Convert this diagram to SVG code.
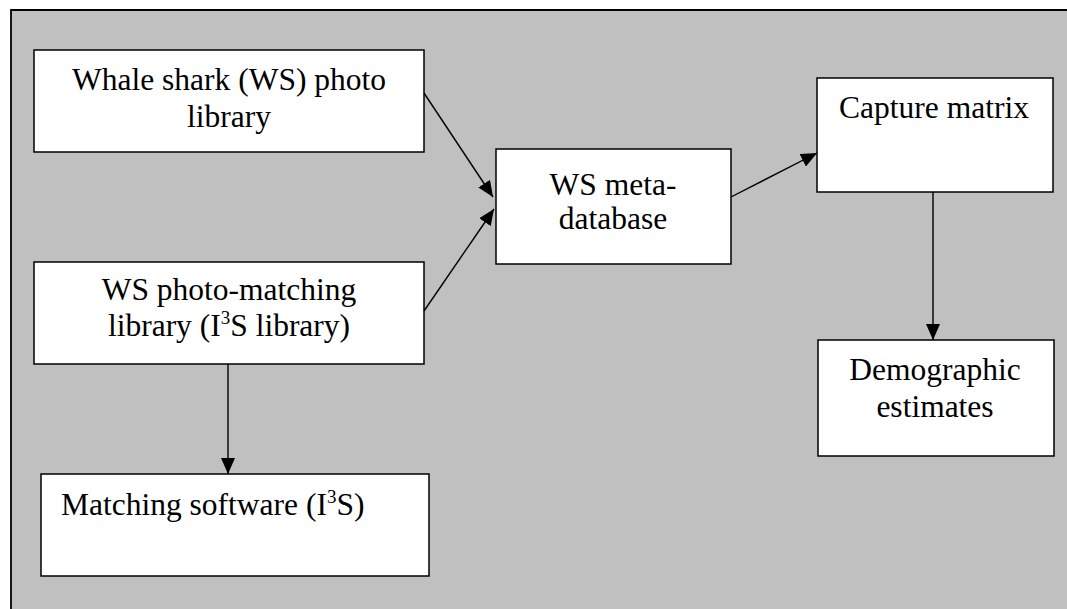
<svg xmlns="http://www.w3.org/2000/svg" width="1067" height="609" viewBox="0 0 1067 609">
  <style>
    .box { fill: #ffffff; stroke: #000000; stroke-width: 1.5; }
    .lbl { font-family: "Liberation Serif", "Times New Roman", serif; font-size: 31.5px; fill: #000000; }
    .mid { text-anchor: middle; }
    .sup { font-size: 19px; }
    .edge { fill: none; stroke: #000000; stroke-width: 1.4; }
  </style>
  <defs>
    <marker id="arrow" viewBox="0 0 16 14" refX="16" refY="7" markerWidth="16" markerHeight="14" markerUnits="userSpaceOnUse" orient="auto">
      <path d="M0,0 L16,7 L0,14 Z" fill="#000000"/>
    </marker>
  </defs>

  <!-- background panel: only the top and left borders fall inside the page -->
  <rect x="0" y="0" width="1067" height="609" fill="#ffffff"/>
  <rect x="11" y="10" width="1056" height="599" fill="#c0c0c0"/>
  <path d="M11,609 L11,10 L1067,10" fill="none" stroke="#000000" stroke-width="1.8"/>

  <g id="photo-library">
    <rect class="box" x="34" y="50" width="390" height="102"/>
    <text class="lbl mid" x="229" y="90">Whale shark (WS) photo</text>
    <text class="lbl mid" x="229" y="127">library</text>
  </g>

  <g id="matching-library">
    <rect class="box" x="34" y="262" width="390" height="102"/>
    <text class="lbl mid" x="229" y="300">WS photo-matching</text>
    <text class="lbl mid" x="229" y="336">library (I<tspan class="sup" dy="-12">3</tspan><tspan dy="12">S library)</tspan></text>
  </g>

  <g id="matching-software">
    <rect class="box" x="41" y="474" width="388" height="102"/>
    <text class="lbl" x="61" y="515">Matching software (I<tspan class="sup" dy="-12">3</tspan><tspan dy="12">S)</tspan></text>
  </g>

  <g id="meta-database">
    <rect class="box" x="496" y="149" width="235" height="115"/>
    <text class="lbl mid" x="613" y="195">WS meta-</text>
    <text class="lbl mid" x="613" y="229">database</text>
  </g>

  <g id="capture-matrix">
    <rect class="box" x="817" y="78" width="236" height="114"/>
    <text class="lbl mid" x="934" y="118">Capture matrix</text>
  </g>

  <g id="demographic-estimates">
    <rect class="box" x="818" y="340" width="236" height="116"/>
    <text class="lbl mid" x="935" y="380">Demographic</text>
    <text class="lbl mid" x="935" y="417">estimates</text>
  </g>

  <g id="connectors">
    <line class="edge" x1="424" y1="93" x2="493" y2="197" marker-end="url(#arrow)"/>
    <line class="edge" x1="424" y1="311" x2="494" y2="209" marker-end="url(#arrow)"/>
    <line class="edge" x1="228" y1="364" x2="228" y2="474" marker-end="url(#arrow)"/>
    <line class="edge" x1="731" y1="197" x2="817" y2="153" marker-end="url(#arrow)"/>
    <line class="edge" x1="933" y1="192" x2="933" y2="340" marker-end="url(#arrow)"/>
  </g>
</svg>
